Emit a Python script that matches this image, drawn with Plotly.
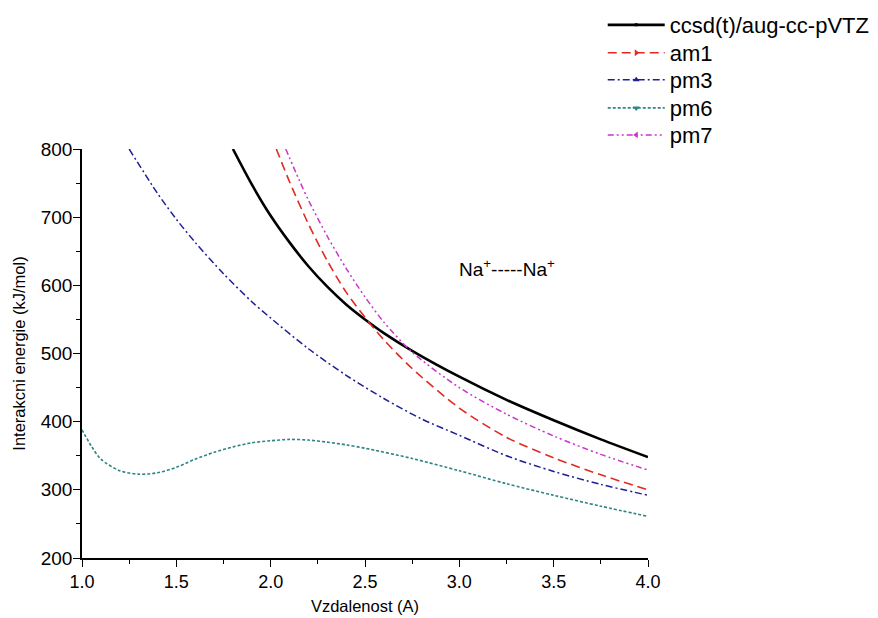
import plotly.graph_objects as go

# ---- data ----
ccsd_x = [1.8, 1.9, 2.0, 2.1, 2.2, 2.3, 2.4, 2.5, 2.6, 2.75, 3.0, 3.25, 3.5, 3.75, 4.0]
ccsd_y = [800, 748, 702, 663, 628, 598, 572, 550, 530, 504, 466, 432, 402, 374, 348]

am1_x = [2.03, 2.1, 2.2, 2.3, 2.4, 2.5, 2.6, 2.75, 3.0, 3.25, 3.5, 3.75, 4.0]
am1_y = [800, 752, 690, 636, 590, 553, 520, 478, 420, 377, 347, 322, 300]

pm3_x = [1.25, 1.4, 1.5, 1.6, 1.75, 1.9, 2.0, 2.2, 2.4, 2.6, 2.8, 3.0, 3.25, 3.5, 3.75, 4.0]
pm3_y = [800, 735, 697, 663, 617, 576, 552, 507, 468, 434, 404, 380, 350, 327, 308, 292]

pm6_x = [1.0, 1.05, 1.1, 1.2, 1.3, 1.4, 1.5, 1.6, 1.7, 1.8, 1.9, 2.0, 2.1, 2.2, 2.3, 2.4, 2.5,
         2.75, 3.0, 3.25, 3.5, 3.75, 4.0]
pm6_y = [388, 364, 345, 328, 323, 325, 333, 345, 355, 363, 369, 372, 374, 373, 370, 366, 361,
         346, 328, 309, 292, 276, 261]

pm7_x = [2.08, 2.15, 2.2, 2.3, 2.4, 2.5, 2.6, 2.75, 3.0, 3.25, 3.5, 3.75, 4.0]
pm7_y = [800, 755, 725, 672, 625, 583, 546, 502, 450, 411, 379, 352, 329]

series_names = ["ccsd(t)/aug-cc-pVTZ", "am1", "pm3", "pm6", "pm7"]
x_ticks = [1.0, 1.5, 2.0, 2.5, 3.0, 3.5, 4.0]
x_tick_labels = ["1.0", "1.5", "2.0", "2.5", "3.0", "3.5", "4.0"]
y_ticks = [200, 300, 400, 500, 600, 700, 800]

# ---- styles ----
styles = [
    dict(color="#000000", width=2.6, dash="solid", symbol="square", msize=3),
    dict(color="#E02A22", width=1.6, dash="9px,5px", symbol="triangle-right", msize=6),
    dict(color="#1E1E96", width=1.5, dash="7px,3px,2px,3px", symbol="triangle-up", msize=6),
    dict(color="#2E8585", width=1.6, dash="3px,2px", symbol="triangle-down", msize=6),
    dict(color="#CC33CC", width=1.5, dash="6px,3px,2px,3px,2px,3px", symbol="triangle-left", msize=6),
]
data = [(ccsd_x, ccsd_y), (am1_x, am1_y), (pm3_x, pm3_y), (pm6_x, pm6_y), (pm7_x, pm7_y)]
legend_ids = ["legend", "legend2", "legend3", "legend4", "legend5"]
legend_rows = [1.303, 1.235, 1.169, 1.100, 1.034]

FONT = "Arial, Liberation Sans, sans-serif"

fig = go.Figure()
for (xs, ys), name, st in zip(data, series_names, styles):
    fig.add_trace(go.Scatter(
        x=xs, y=ys, mode="lines", name=name, showlegend=False,
        line=dict(color=st["color"], width=st["width"], dash=st["dash"], shape="spline", smoothing=0.8),
        hoverinfo="skip",
    ))
for name, st, lid in zip(series_names, styles, legend_ids):
    fig.add_trace(go.Scatter(
        x=[None], y=[None], mode="lines+markers", name=name, legend=lid,
        line=dict(color=st["color"], width=st["width"], dash=st["dash"]),
        marker=dict(symbol=st["symbol"], size=st["msize"], color=st["color"]),
    ))

fig.add_annotation(
    x=3.25, y=625, xref="x", yref="y",
    text="Na<sup>+</sup>-----Na<sup>+</sup>", showarrow=False,
    font=dict(family=FONT, size=19, color="#000000"),
)

legend_layout = {}
for lid, ry in zip(legend_ids, legend_rows):
    legend_layout[lid] = dict(
        x=0.92, y=ry, xanchor="left", yanchor="middle",
        font=dict(family=FONT, size=22, color="#000000"),
        bgcolor="rgba(0,0,0,0)", itemwidth=57,
    )

fig.update_layout(
    width=870, height=610,
    margin=dict(l=74, r=230, t=141, b=60, autoexpand=False),
    paper_bgcolor="white", plot_bgcolor="white",
    font=dict(family=FONT, color="#000000"),
    xaxis=dict(
        range=[1.0, 4.0], tickvals=x_ticks, ticktext=x_tick_labels,
        showgrid=False, zeroline=False, showline=True, linecolor="black", linewidth=1.5,
        ticks="outside", ticklen=7, tickwidth=1.3, tickcolor="black",
        minor=dict(dtick=0.25, ticks="outside", ticklen=4, tickwidth=1.3, tickcolor="black", showgrid=False),
        tickfont=dict(family=FONT, size=18),
        title=dict(text="Vzdalenost (A)", font=dict(family=FONT, size=16.5), standoff=9),
        automargin=False,
    ),
    yaxis=dict(
        range=[200, 800], tickvals=y_ticks,
        showgrid=False, zeroline=False, showline=True, linecolor="black", linewidth=1.5,
        ticks="outside", ticklen=7, tickwidth=1.3, tickcolor="black", ticklabelstandoff=-3,
        minor=dict(dtick=50, ticks="outside", ticklen=4, tickwidth=1.3, tickcolor="black", showgrid=False),
        tickfont=dict(family=FONT, size=19),
        title=dict(text="Interakcni energie (kJ/mol)", font=dict(family=FONT, size=16.5), standoff=11),
        automargin=False,
    ),
    **legend_layout,
)

fig.write_html("out.html")
